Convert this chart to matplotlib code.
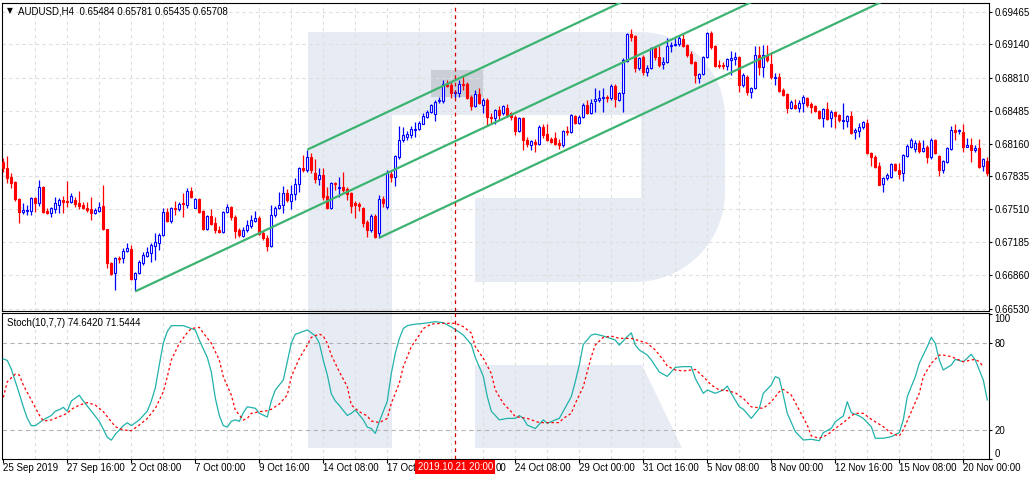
import numpy as np
import matplotlib
matplotlib.use("Agg")
import matplotlib.pyplot as plt
from matplotlib.patches import Polygon, Rectangle
import matplotlib.transforms as mtransforms

plt.rcParams['font.family'] = ['Liberation Sans', 'DejaVu Sans']

# ---------------- data (AUDUSD H4, bar 0 = 25 Sep 2019 00:00) ----------------
opens = [0.6798,0.6792,0.6783,0.6778,0.6761,0.6748,0.6749,0.6749,0.6762,0.6757,
0.6773,0.6749,0.6747,0.6751,0.6755,0.6760,0.6759,0.6758,0.6760,0.6757,
0.6755,0.6752,0.6751,0.6747,0.6749,0.6754,0.6732,0.6698,0.6688,0.6703,
0.6703,0.6710,0.6712,0.6682,0.6688,0.6698,0.6705,0.6708,0.6715,0.6718,
0.6726,0.6748,0.6740,0.6752,0.6751,0.6757,0.6755,0.6769,0.6752,0.6761,
0.6749,0.6732,0.6744,0.6738,0.6731,0.6729,0.6748,0.6753,0.6743,0.6731,
0.6725,0.6731,0.6735,0.6740,0.6742,0.6728,0.6723,0.6715,0.6745,0.6752,
0.6755,0.6767,0.6759,0.6766,0.6776,0.6792,0.6790,0.6803,0.6787,0.6781,
0.6785,0.6764,0.6752,0.6777,0.6772,0.6773,0.6771,0.6767,0.6757,0.6756,
0.6752,0.6739,0.6731,0.6744,0.6728,0.6761,0.6753,0.6786,0.6783,0.6803,
0.6820,0.6823,0.6824,0.6829,0.6830,0.6835,0.6842,0.6847,0.6845,0.6858,
0.6858,0.6875,0.6874,0.6866,0.6866,0.6875,0.6875,0.6862,0.6853,0.6865,
0.6854,0.6859,0.6842,0.6841,0.6849,0.6846,0.6851,0.6846,0.6842,0.6828,
0.6841,0.6820,0.6815,0.6818,0.6816,0.6832,0.6825,0.6821,0.6822,0.6817,
0.6815,0.6828,0.6827,0.6843,0.6836,0.6842,0.6854,0.6846,0.6858,0.6859,
0.6861,0.6862,0.6861,0.6873,0.6859,0.6866,0.6898,0.6924,0.6922,0.6891,
0.6902,0.6887,0.6891,0.6910,0.6902,0.6895,0.6897,0.6912,0.6913,0.6914,
0.6919,0.6913,0.6905,0.6897,0.6881,0.6885,0.6902,0.6925,0.6912,0.6894,
0.6894,0.6893,0.6899,0.6900,0.6902,0.6874,0.6882,0.6867,0.6871,0.6904,
0.6892,0.6904,0.6895,0.6881,0.6882,0.6869,0.6865,0.6851,0.6854,0.6851,
0.6856,0.6861,0.6855,0.6853,0.6848,0.6841,0.6850,0.6841,0.6847,0.6844,
0.6838,0.6838,0.6843,0.6827,0.6828,0.6832,0.6836,0.6807,0.6803,0.6794,
0.6776,0.6782,0.6783,0.6796,0.6790,0.6787,0.6804,0.6813,0.6811,0.6817,
0.6809,0.6813,0.6803,0.6820,0.6804,0.6790,0.6798,0.6811,0.6829,0.6828,
0.6827,0.6813,0.6815,0.6810,0.6812,0.6794,0.6799]

highs = [0.6802,0.6804,0.6787,0.6779,0.6762,0.6757,0.6755,0.6763,0.6763,0.6780,
0.6774,0.6752,0.6753,0.6763,0.6762,0.6764,0.6779,0.6767,0.6763,0.6769,
0.6758,0.6758,0.6763,0.6752,0.6758,0.6775,0.6732,0.6699,0.6704,0.6705,
0.6713,0.6718,0.6716,0.6689,0.6701,0.6709,0.6714,0.6718,0.6728,0.6728,
0.6752,0.6752,0.6753,0.6759,0.6758,0.6767,0.6772,0.6773,0.6762,0.6762,
0.6750,0.6745,0.6751,0.6743,0.6735,0.6749,0.6756,0.6754,0.6745,0.6733,
0.6734,0.6741,0.6745,0.6749,0.6744,0.6731,0.6726,0.6755,0.6754,0.6768,
0.6774,0.6771,0.6775,0.6782,0.6793,0.6805,0.6810,0.6807,0.6801,0.6792,
0.6792,0.6773,0.6778,0.6778,0.6783,0.6788,0.6773,0.6768,0.6759,0.6758,
0.6753,0.6741,0.6746,0.6746,0.6765,0.6764,0.6790,0.6789,0.6805,0.6833,
0.6832,0.6828,0.6833,0.6837,0.6838,0.6846,0.6849,0.6855,0.6859,0.6862,
0.6879,0.6879,0.6877,0.6869,0.6879,0.6883,0.6877,0.6864,0.6869,0.6871,
0.6861,0.6861,0.6846,0.6850,0.6853,0.6854,0.6855,0.6847,0.6844,0.6842,
0.6842,0.6823,0.6820,0.6821,0.6834,0.6835,0.6835,0.6823,0.6827,0.6821,
0.6829,0.6833,0.6845,0.6844,0.6844,0.6856,0.6859,0.6860,0.6871,0.6869,
0.6871,0.6864,0.6875,0.6875,0.6867,0.6901,0.6925,0.6929,0.6923,0.6902,
0.6904,0.6894,0.6911,0.6912,0.6912,0.6902,0.6920,0.6916,0.6920,0.6923,
0.6924,0.6914,0.6907,0.6898,0.6886,0.6903,0.6926,0.6927,0.6913,0.6899,
0.6897,0.6901,0.6907,0.6906,0.6903,0.6886,0.6884,0.6872,0.6912,0.6912,
0.6913,0.6913,0.6906,0.6886,0.6886,0.6871,0.6866,0.6859,0.6860,0.6859,
0.6864,0.6862,0.6857,0.6854,0.6849,0.6851,0.6857,0.6849,0.6848,0.6845,
0.6856,0.6844,0.6848,0.6831,0.6836,0.6838,0.6840,0.6808,0.6805,0.6798,
0.6783,0.6787,0.6797,0.6797,0.6797,0.6806,0.6816,0.6822,0.6820,0.6820,
0.6820,0.6815,0.6822,0.6821,0.6805,0.6800,0.6813,0.6833,0.6835,0.6830,
0.6835,0.6822,0.6822,0.6815,0.6821,0.6802,0.6803]

lows = [0.6788,0.6777,0.6772,0.6759,0.6738,0.6746,0.6745,0.6745,0.6748,0.6754,
0.6747,0.6746,0.6743,0.6747,0.6747,0.6747,0.6753,0.6757,0.6753,0.6751,
0.6751,0.6748,0.6741,0.6746,0.6748,0.6731,0.6693,0.6686,0.6671,0.6698,
0.6698,0.6709,0.6681,0.6670,0.6687,0.6696,0.6704,0.6699,0.6701,0.6711,
0.6725,0.6739,0.6738,0.6745,0.6749,0.6743,0.6752,0.6762,0.6752,0.6747,
0.6731,0.6731,0.6736,0.6728,0.6728,0.6728,0.6747,0.6741,0.6723,0.6724,
0.6724,0.6729,0.6733,0.6739,0.6726,0.6721,0.6710,0.6714,0.6743,0.6751,
0.6747,0.6758,0.6751,0.6760,0.6768,0.6788,0.6788,0.6787,0.6777,0.6775,
0.6760,0.6751,0.6751,0.6770,0.6763,0.6768,0.6760,0.6747,0.6742,0.6749,
0.6734,0.6724,0.6729,0.6723,0.6723,0.6753,0.6751,0.6778,0.6774,0.6801,
0.6818,0.6820,0.6822,0.6823,0.6829,0.6835,0.6841,0.6846,0.6838,0.6856,
0.6856,0.6872,0.6861,0.6861,0.6862,0.6869,0.6860,0.6849,0.6852,0.6855,
0.6846,0.6833,0.6836,0.6835,0.6839,0.6844,0.6842,0.6839,0.6824,0.6827,
0.6810,0.6813,0.6810,0.6808,0.6815,0.6822,0.6819,0.6817,0.6815,0.6811,
0.6813,0.6824,0.6826,0.6835,0.6835,0.6841,0.6845,0.6845,0.6847,0.6857,
0.6847,0.6857,0.6859,0.6852,0.6858,0.6847,0.6897,0.6917,0.6887,0.6889,
0.6884,0.6883,0.6890,0.6899,0.6892,0.6890,0.6896,0.6906,0.6912,0.6912,
0.6911,0.6902,0.6895,0.6876,0.6876,0.6884,0.6901,0.6909,0.6892,0.6891,
0.6890,0.6889,0.6884,0.6894,0.6867,0.6872,0.6864,0.6861,0.6870,0.6884,
0.6882,0.6897,0.6880,0.6874,0.6867,0.6863,0.6846,0.6850,0.6850,0.6847,
0.6847,0.6852,0.6846,0.6847,0.6840,0.6832,0.6839,0.6832,0.6831,0.6837,
0.6830,0.6832,0.6825,0.6821,0.6823,0.6830,0.6806,0.6794,0.6792,0.6775,
0.6768,0.6780,0.6782,0.6789,0.6781,0.6779,0.6803,0.6812,0.6808,0.6807,
0.6808,0.6797,0.6801,0.6806,0.6784,0.6787,0.6797,0.6810,0.6820,0.6825,
0.6808,0.6813,0.6798,0.6808,0.6792,0.6789,0.6784]

closes = [0.6792,0.6782,0.6777,0.6761,0.6748,0.6750,0.6750,0.6762,0.6757,0.6773,
0.6748,0.6747,0.6752,0.6757,0.6760,0.6758,0.6758,0.6764,0.6756,0.6754,
0.6752,0.6750,0.6747,0.6750,0.6753,0.6732,0.6698,0.6687,0.6703,0.6702,
0.6710,0.6713,0.6682,0.6688,0.6699,0.6706,0.6709,0.6716,0.6719,0.6726,
0.6748,0.6740,0.6752,0.6751,0.6756,0.6756,0.6769,0.6763,0.6761,0.6748,
0.6732,0.6744,0.6737,0.6731,0.6729,0.6748,0.6753,0.6743,0.6730,0.6726,
0.6731,0.6736,0.6741,0.6742,0.6727,0.6723,0.6715,0.6745,0.6752,0.6755,
0.6767,0.6760,0.6766,0.6776,0.6792,0.6790,0.6803,0.6790,0.6781,0.6785,
0.6763,0.6752,0.6777,0.6776,0.6773,0.6770,0.6766,0.6754,0.6755,0.6754,
0.6738,0.6731,0.6744,0.6724,0.6761,0.6757,0.6787,0.6783,0.6804,0.6820,
0.6824,0.6825,0.6830,0.6830,0.6836,0.6843,0.6847,0.6854,0.6857,0.6859,
0.6875,0.6873,0.6866,0.6867,0.6875,0.6874,0.6861,0.6853,0.6865,0.6856,
0.6859,0.6842,0.6841,0.6849,0.6844,0.6853,0.6844,0.6842,0.6828,0.6841,
0.6820,0.6816,0.6819,0.6816,0.6832,0.6824,0.6820,0.6818,0.6816,0.6815,
0.6828,0.6827,0.6844,0.6836,0.6842,0.6854,0.6846,0.6856,0.6860,0.6861,
0.6862,0.6861,0.6873,0.6860,0.6866,0.6899,0.6924,0.6921,0.6891,0.6901,
0.6887,0.6891,0.6910,0.6902,0.6894,0.6897,0.6912,0.6913,0.6914,0.6920,
0.6912,0.6904,0.6896,0.6884,0.6885,0.6902,0.6925,0.6911,0.6893,0.6893,
0.6893,0.6900,0.6901,0.6902,0.6874,0.6884,0.6867,0.6871,0.6904,0.6892,
0.6904,0.6899,0.6882,0.6882,0.6868,0.6864,0.6851,0.6857,0.6851,0.6856,
0.6862,0.6854,0.6852,0.6848,0.6841,0.6850,0.6840,0.6847,0.6843,0.6839,
0.6839,0.6843,0.6826,0.6829,0.6832,0.6837,0.6807,0.6803,0.6793,0.6775,
0.6782,0.6785,0.6796,0.6790,0.6786,0.6805,0.6814,0.6820,0.6817,0.6809,
0.6812,0.6803,0.6820,0.6807,0.6790,0.6799,0.6812,0.6829,0.6827,0.6829,
0.6813,0.6815,0.6810,0.6812,0.6793,0.6801,0.6787]

# Stochastic (10,7,7): bar index / value
k_bars = [0,1,2,4,5,6,7,8,9,10,12,13,14,15,16,17,19,20,22,24,26,27,28,30,31,32,34,36,37,38,
          39,40,41,42,45,47,48,49,51,52,53,54,55,56,57,58,59,60,61,63,64,66,67,68,70,71,72,73,75,76,
          78,79,80,81,82,83,84,86,87,88,90,91,92,93,94,96,97,98,99,100,101,103,105,107,108,110,112,114,115,117,
          118,120,121,122,124,126,128,129,130,131,133,135,136,138,139,140,142,143,144,145,147,148,150,152,153,154,156,157,158,159,
          161,162,164,166,168,170,172,173,175,176,178,180,181,182,184,185,187,189,190,192,193,194,195,196,198,200,202,204,205,207,
          208,210,211,212,214,215,217,218,220,222,224,225,226,228,229,231,232,233,234,235,237,238,240,242,243,245,246]
k_vals = [69,68,62,45,36,28,23,23,25,27,30,33,34,35.6,33,40,44,40,33,26,15,13,17,23,25,23,27,33,40,49,
          65,80,88,92,92,90,89,82,70,60,42,30,23,22,26,27,26,32,36,35,31.5,29,40,47.6,54.5,67,80,86,88,89,
          85,80,68,58,45,40,37,30,31.5,33.8,27,22,21,17.7,25.7,40,59,73,83,90,92,93,93.5,94.3,94.7,94,91,87.5,85.5,79,
          70,57,43,33,27,28,28,30,28,23.4,21,27,24.6,27,28,33,43,53.3,65,79,85.5,86.2,84.8,83,82,78.6,84.4,87,78.6,75.2,
          71.7,68.3,60,57,63.2,63.7,63.7,55.6,45.3,47.6,45.3,47.6,50.3,45.3,36,34.3,28,34.9,45.3,51,56.8,55.6,44,31.5,18.9,13.1,13.6,12.6,18.2,21.1,
          25.7,29.7,39.5,32,29.7,28,22.3,14.3,14.3,15.4,18.2,26.9,43,56.8,66,77.5,83.9,79.8,68.3,61.4,64.8,68.7,67.1,72.2,68.3,54.5,40.7]

d_bars = [0,1,3,4,5,7,9,10,12,14,16,17,19,21,23,25,27,28,30,32,34,36,38,40,41,42,44,46,47,49,
          50,52,54,55,57,58,60,61,62,64,66,67,69,71,72,74,76,77,79,80,81,82,84,86,87,89,91,92,94,96,
          97,99,100,102,104,105,107,110,113,115,117,118,120,122,123,125,127,128,131,134,136,139,140,142,143,145,146,147,148,150,
          152,154,157,159,161,163,165,166,168,170,173,175,177,179,181,183,185,187,190,192,194,195,197,199,201,202,204,206,208,210,
          212,213,215,217,220,222,224,225,227,229,230,232,234,235,237,239,240,242,243,244,245]
d_vals = [42.5,53.3,58.6,57.9,51,40.7,30.3,26.2,26.9,29.2,31.5,34.3,37.2,38.9,37.2,32.6,25.7,22.3,20,19.5,23.4,28,34.9,46.4,56.8,68.3,79.8,87.1,90,90.8,
          86.9,79.8,68.3,56.8,44.1,33.8,26.9,28,31.5,32.6,33.3,34.3,37.9,44.1,56.8,69.4,78.6,83.9,86.2,84.8,79.8,71.7,60.2,49.9,37.2,32.6,29.7,26.2,25.1,28,
          38.4,52.2,63.7,77.5,85.5,90,93.1,93.6,93.6,91.3,86.9,77.5,69.4,59,47.6,38.4,32.6,29.2,28,25.1,25.1,25.1,28,31.5,38.4,49.9,60.2,70.6,78.6,83.9,
          84.8,83.2,83.2,81.6,79.8,75.2,68.3,64.1,61.4,60.7,61.8,56.8,51,47.6,47.1,45.7,41.8,36,34.9,39.5,46.4,48,44.1,33.8,23.4,15.9,14.3,16.6,21.1,25.1,
          29.7,31.5,31.5,27.4,22.3,17.7,15.9,20,32.6,45.3,56.8,66,71.7,71.7,70.6,68.3,67.1,68.3,68.7,67.1,63.7]

time_tick_bars = [0, 16, 32, 48, 64, 80, 96, 112, 128, 144, 160, 176, 192, 208, 224, 240]
time_tick_labels = ["25 Sep 2019", "27 Sep 16:00", "2 Oct 08:00", "7 Oct 00:00", "9 Oct 16:00",
                    "14 Oct 08:00", "17 Oct 00:00", "21 Oct 16:00", "24 Oct 08:00", "29 Oct 00:00",
                    "31 Oct 16:00", "5 Nov 08:00", "8 Nov 00:00", "12 Nov 16:00", "15 Nov 08:00",
                    "20 Nov 00:00"]
price_ticks = [0.69465, 0.69140, 0.68810, 0.68485, 0.68160, 0.67835, 0.67510, 0.67185, 0.66860, 0.66530]
stoch_ticks = [0, 20, 80, 100]
stoch_levels = [20, 80]

pitchfork_bars = [33, 76, 94]
pitchfork_prices = [lows[33], highs[76], lows[94]]

cursor_bar = 113
cursor_label = "2019.10.21 20:00"
title_main = "AUDUSD,H4  0.65484 0.65781 0.65435 0.65708"
title_stoch = "Stoch(10,7,7) 74.6420 71.5444"

# ---------------- figure ----------------
W, H = 1035, 480
fig = plt.figure(figsize=(W / 100, H / 100), dpi=100)
fig.patch.set_facecolor('white')

def fx(px):
    return px / W

def fy(py):
    return 1 - py / H

# watermark logo (decoration, figure pixel space)
wm_col = '#E7EBF3'
def arc(cx, cy, r, a0, a1, n=20):
    a = np.radians(np.linspace(a0, a1, n))
    return [(cx + r * np.cos(t), cy - r * np.sin(t)) for t in a]

stem = [(308, 32), (392, 32), (392, 448), (308, 448)]
bowl = ([(392, 32), (640, 32)] + arc(640, 117, 85, 90, 0) + [(725, 192)] + arc(635, 192, 90, 0, -90)
        + [(475, 282), (475, 198), (641, 198), (641, 115), (392, 115)])
leg = [(475, 365), (642, 365), (682, 448), (475, 448)]
for shape in (stem, bowl, leg):
    pts = [(fx(x), fy(y)) for x, y in shape]
    fig.add_artist(Polygon(pts, closed=True, transform=fig.transFigure,
                           facecolor=wm_col, edgecolor='none', zorder=-2))
fig.add_artist(Rectangle((fx(431), fy(97)), fx(483) - fx(431), fy(70) - fy(97),
                         transform=fig.transFigure, facecolor='#CACED6',
                         edgecolor='none', zorder=-1))

ax = fig.add_axes([fx(2), fy(311), fx(989) - fx(2), fy(3) - fy(311)])
ax2 = fig.add_axes([fx(2), fy(459), fx(989) - fx(2), fy(313) - fy(459)])
for a in (ax, ax2):
    a.set_facecolor('none')
    for s in a.spines.values():
        s.set_color('black')
        s.set_linewidth(0.8)

n = len(closes)
bars = np.arange(n)
xmin, xmax = -0.33, 246.43
ax.set_xlim(xmin, xmax)
ax2.set_xlim(xmin, xmax)
ax.set_ylim(0.66506, 0.69549)
ax2.set_ylim(0, 100.7)

# grid
grid_kw = dict(color='#DEDEDE', lw=0.8, ls=(0, (3, 3)), zorder=0.5)
for b in range(8, n, 8):
    ax.axvline(b, **grid_kw)
    ax2.axvline(b, **grid_kw)
for p in price_ticks:
    ax.axhline(p, **grid_kw)
for lv in stoch_levels:
    ax2.axhline(lv, color='#B4B4B4', lw=0.8, ls=(0, (4, 3)), zorder=0.6)

# candles
o = np.array(opens); h = np.array(highs); l = np.array(lows); c = np.array(closes)
up = c >= o
edge = np.where(up, '#0000FF', '#FF0000')
face = np.where(up, 'white', '#FF0000')
ax.vlines(bars, l, h, colors=edge, lw=0.9, zorder=3)
ax.bar(bars, np.abs(c - o), bottom=np.minimum(o, c), width=0.5,
       color=face, edgecolor=edge, linewidth=0.8, zorder=4)

# Andrews pitchfork
xa, xb, xc = pitchfork_bars
pa, pb, pc = pitchfork_prices
slope = ((pb + pc) / 2 - pa) / ((xb + xc) / 2 - xa)
x_end = n + 2
for x0, p0 in zip(pitchfork_bars, pitchfork_prices):
    ax.plot([x0, x_end], [p0, p0 + slope * (x_end - x0)], color='#3CB371', lw=1.6,
            solid_capstyle='butt', zorder=5)

# stochastic
ax2.plot(k_bars, k_vals, color='#20B2AA', lw=0.9, zorder=3)
ax2.plot(d_bars, d_vals, color='#FF0000', lw=0.9, ls=(0, (2, 2)), zorder=3)

# crosshair
for a in (ax, ax2):
    a.axvline(cursor_bar, color='#D00000', lw=0.9, ls=(0, (3, 3)), zorder=6)

# axes ticks
ax.set_xticks([])
ax.yaxis.tick_right()
ax.set_yticks(price_ticks)
ax.set_yticklabels([f"{p:.5f}" for p in price_ticks])
ax.tick_params(axis='y', direction='out', length=2.5, width=0.8, pad=1.5, labelsize=7)

ax2.yaxis.tick_right()
ax2.set_yticks(stoch_ticks)
labs = ax2.set_yticklabels([str(v) for v in stoch_ticks])
labs[0].set_va('bottom')
labs[-1].set_va('top')
ax2.tick_params(axis='y', direction='out', length=2.5, width=0.8, pad=1.5, labelsize=7)
ax2.set_xticks(time_tick_bars)
ax2.set_xticklabels([])
ax2.tick_params(axis='x', direction='out', length=3, width=0.8)

tr = mtransforms.blended_transform_factory(ax2.transData, fig.transFigure)
time_texts = []
for b, lab in zip(time_tick_bars, time_tick_labels):
    t = ax2.text(b - 0.1, fy(468), lab, transform=tr, ha='left', va='center', fontsize=7,
                 clip_on=False, zorder=3)
    time_texts.append(t)
cursor_txt = ax2.text(cursor_bar, fy(467), cursor_label, transform=tr, ha='center', va='center',
                      fontsize=7, color='white', clip_on=False, zorder=10,
                      bbox=dict(boxstyle='square,pad=0.25', facecolor='#FF0000', edgecolor='none'))

# The cursor time box hides the labels beneath it (as in the terminal):
# keep only the parts of those labels that remain visible.
fig.canvas.draw()
renderer = fig.canvas.get_renderer()
box = cursor_txt.get_bbox_patch().get_window_extent(renderer)
inv = ax2.transData.inverted()
for t, lab in zip(time_texts, time_tick_labels):
    ext = t.get_window_extent(renderer)
    if ext.x1 > box.x0 and ext.x0 < box.x1:
        if ext.x0 < box.x0:
            # left part stays visible: date only
            t.set_text(lab.rsplit(' ', 1)[0])
            if t.get_window_extent(renderer).x1 > box.x0:
                t.set_text(' '.join(lab.split(' ')[:2]))
        else:
            # only the tail after the box stays visible
            tail = lab[-2:]
            x_end_data = inv.transform((ext.x1, 0))[0]
            t.set_text(tail)
            t.set_x(x_end_data)
            t.set_ha('right')

# titles
fig.text(fx(7), fy(11), '\u25BC', family='DejaVu Sans', fontsize=5.5, va='center', ha='left')
fig.text(fx(18), fy(11), title_main, fontsize=7, va='center', ha='left')
fig.text(fx(7), fy(323), title_stoch, fontsize=7, va='center', ha='left')

fig.savefig('out.png', dpi=100)
